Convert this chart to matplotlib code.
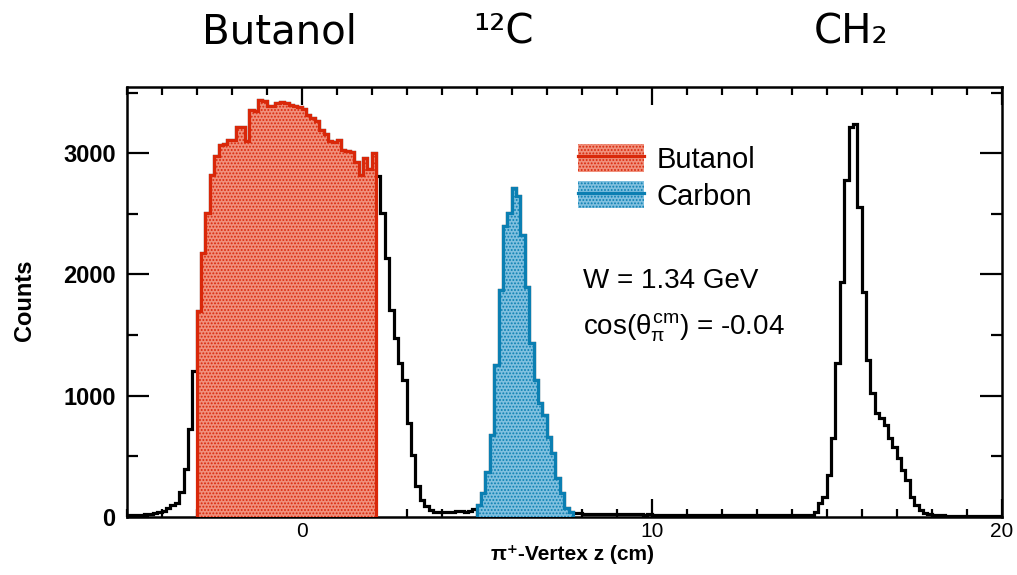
import numpy as np
import matplotlib
matplotlib.use("Agg")
import matplotlib.pyplot as plt
from matplotlib.patches import Patch
from matplotlib.lines import Line2D
from matplotlib.ticker import MultipleLocator

# bin width 0.125 cm, z from -5 to 20 cm (200 bins)
z_min, z_max = -5.0, 20.0

# counts per bin, split by region
counts_left = [12, 15, 15, 18, 20, 22, 28, 40, 50, 70, 95, 110, 205, 390, 720, 1200]      # -5.0 .. -3.125
counts_butanol = [1700, 2180, 2510, 2820, 2975, 3070, 3075, 3110, 3110, 3220,
                  3220, 3100, 3360, 3350, 3440, 3430, 3390, 3395, 3420, 3425,
                  3420, 3400, 3390, 3380, 3370, 3320, 3290, 3270, 3190, 3160,
                  3100, 3090, 3110, 3030, 3020, 3010, 2930, 2820, 2960, 2870,
                  3000]                                                                # -3.0 .. 2.0
counts_mid1 = [2810, 2505, 2135, 1705, 1475, 1265, 1130, 770, 510, 250, 140, 85,
               55, 42, 40, 38, 40, 42, 45, 45, 42, 48, 60]                             # 2.125 .. 4.875
counts_carbon = [97, 193, 372, 675, 1253, 1872, 2400, 2505, 2711, 2650, 2326,
                 1899, 1432, 1129, 936, 840, 661, 523, 317, 193, 69, 40]              # 5.0 .. 7.625
counts_mid2 = [30, 28, 26, 25, 24, 24, 23, 22, 22, 21, 21, 20, 20, 19, 20, 19, 18,
               19, 18, 18, 17, 18, 17, 17, 16, 17, 16, 16, 16, 15, 16, 15, 15, 15,
               14, 15, 14, 14, 15, 14, 14, 13, 14, 14, 13, 14, 13, 14, 14, 13, 14,
               15, 14, 15]                                                             # 7.75 .. 14.375
counts_ch2 = [15, 41, 110, 165, 344, 647, 1267, 1941, 2780, 3220, 3243, 2560, 1858,
              1294, 1019, 854, 813, 757, 647, 578, 482, 386, 303, 165, 97, 55, 28,
              20, 18, 14, 10]                                                          # 14.5 .. 18.25
counts_right = [9, 8, 8, 7, 7, 8, 7, 6, 7, 6, 6, 7, 6]                               # 18.375 .. 19.875

butanol_range = (-3.0, 2.125)
carbon_range = (5.0, 7.75)

total = np.array(counts_left + counts_butanol + counts_mid1 + counts_carbon
                 + counts_mid2 + counts_ch2 + counts_right, dtype=float)
edges = np.linspace(z_min, z_max, len(total) + 1)

red = '#d9280a'
red_fill = '#f0907c'
blue = '#0b7fb2'
blue_fill = '#80c0df'

plt.rcParams['font.family'] = ['Liberation Sans', 'DejaVu Sans']
plt.rcParams['mathtext.fontset'] = 'custom'
plt.rcParams['mathtext.rm'] = 'Liberation Sans'
plt.rcParams['mathtext.it'] = 'Liberation Sans'
plt.rcParams['hatch.linewidth'] = 0.9

fig = plt.figure(figsize=(10.17, 5.75), dpi=100)
ax = fig.add_axes([0.1246, 0.1014, 0.8604, 0.7477])

# full distribution (black outline)
ax.stairs(total, edges, color='black', linewidth=2.3, baseline=None, zorder=2)

# butanol part (red, hatched)
b_edges = np.linspace(butanol_range[0], butanol_range[1], len(counts_butanol) + 1)
ax.stairs(counts_butanol, b_edges, fill=True, facecolor=red_fill, edgecolor=red,
          hatch='.....', linewidth=0, zorder=3)
ax.stairs(counts_butanol, b_edges, color=red, linewidth=2.3, baseline=0, zorder=4)

# carbon part (blue, hatched)
c_edges = np.linspace(carbon_range[0], carbon_range[1], len(counts_carbon) + 1)
ax.stairs(counts_carbon, c_edges, fill=True, facecolor=blue_fill, edgecolor=blue,
          hatch='.....', linewidth=0, zorder=3)
ax.stairs(counts_carbon, c_edges, color=blue, linewidth=2.3, baseline=0, zorder=4)

ax.set_xlim(z_min, z_max)
ax.set_ylim(0, 3550)
ax.xaxis.set_major_locator(MultipleLocator(10))
ax.xaxis.set_minor_locator(MultipleLocator(1))
ax.yaxis.set_major_locator(MultipleLocator(1000))
ax.yaxis.set_minor_locator(MultipleLocator(500))
ax.tick_params(which='both', direction='in', top=True, right=True, width=1.6,
               labelsize=17, pad=8)
ax.tick_params(axis='x', which='both', pad=4, labelsize=15)
ax.tick_params(axis='x', which='major', length=13)
ax.tick_params(axis='x', which='minor', length=6)
ax.tick_params(axis='y', which='major', length=16)
ax.tick_params(axis='y', which='minor', length=8)
for lab in ax.get_yticklabels():
    lab.set_fontweight('bold')
for sp in ax.spines.values():
    sp.set_linewidth(1.8)

ax.set_xlabel('π⁺-Vertex z (cm)', fontsize=15, fontweight='bold', va='center')
ax.xaxis.set_label_coords((572 - 126.7) / 875, -(555 - 516.7) / 430)
ax.set_ylabel('Counts', fontsize=17, fontweight='bold', va='center')
ax.yaxis.set_label_coords(-(126.7 - 24) / 875, (516.7 - 300) / 430)

# legend: hatched box with line through it
h_but = (Patch(facecolor=red_fill, edgecolor=red, hatch='.....', linewidth=0),
         Line2D([], [], color=red, linewidth=2.3))
h_car = (Patch(facecolor=blue_fill, edgecolor=blue, hatch='.....', linewidth=0),
         Line2D([], [], color=blue, linewidth=2.3))
fig.legend([h_but, h_car], ['Butanol', 'Carbon'], loc='upper left',
           bbox_to_anchor=(0.557, 0.769), frameon=False, fontsize=21,
           handlelength=2.25, handleheight=1.05, handletextpad=0.45,
           labelspacing=0.25, borderaxespad=0)

fig.text(583 / 1017, 1 - 288 / 575, 'W = 1.34 GeV', fontsize=20, va='baseline')
fig.text(583 / 1017, 1 - 335 / 575, r'cos($\theta_{\pi}^{\mathrm{cm}}$) = -0.04',
         fontsize=20, va='baseline')

# target labels above the frame
top_font = ['DejaVu Sans']
fig.text(279 / 1017, 1 - 33 / 575, 'Butanol', fontsize=29, ha='center', va='center',
         family=top_font)
fig.text(503 / 1017, 1 - 33 / 575, '¹²C', fontsize=29, ha='center', va='center',
         family=top_font)
fig.text(851 / 1017, 1 - 33 / 575, 'CH₂', fontsize=29, ha='center', va='center',
         family=top_font)

fig.savefig('out.png', dpi=100)
